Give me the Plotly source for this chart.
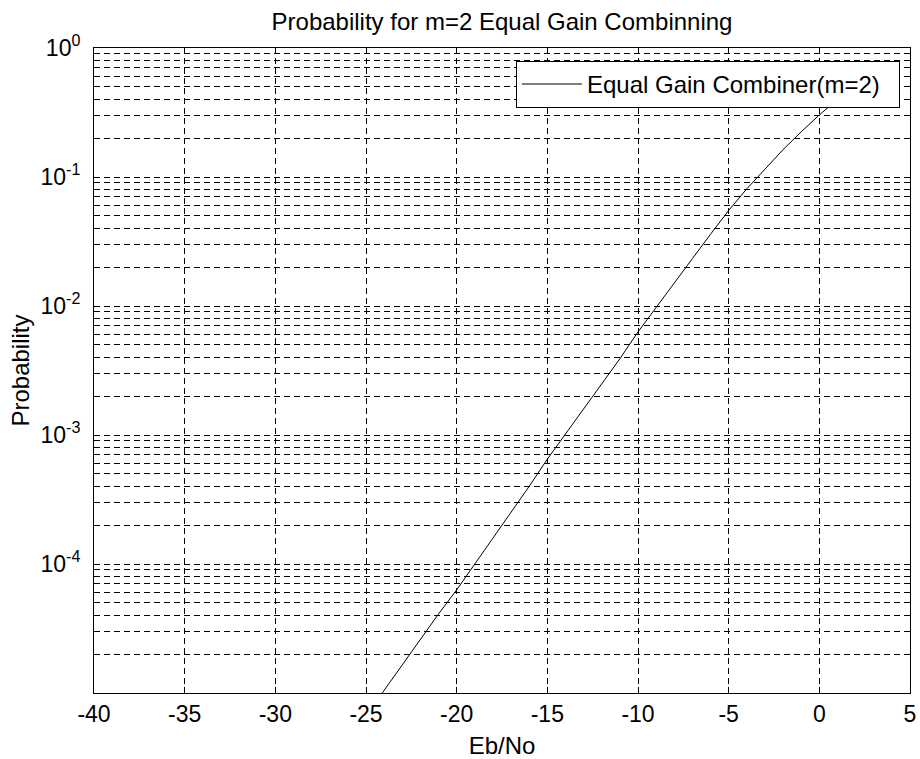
import plotly.graph_objects as go

# Data
eb_no = [-25, -24, -23, -22, -21, -20, -19, -18, -17, -16, -15, -14, -13, -12,
         -11, -10, -9, -8, -7, -6, -5, -4, -3, -2, -1, 0, 1, 2]
probability = [6.5e-6, 1.05e-5, 1.65e-5, 2.6e-5, 4.1e-5, 6.3e-5, 1.0e-4, 1.58e-4,
               2.5e-4, 4.0e-4, 6.5e-4, 1.02e-3, 1.6e-3, 2.5e-3, 3.9e-3, 6.3e-3,
               9.8e-3, 1.51e-2, 2.33e-2, 3.6e-2, 5.5e-2, 8.1e-2, 0.116, 0.163,
               0.224, 0.303, 0.398, 0.513]

x_ticks = [-40, -35, -30, -25, -20, -15, -10, -5, 0, 5]
decades = [-5, -4, -3, -2, -1, 0]
labeled_decades = [-4, -3, -2, -1, 0]

y_tickvals = []
y_ticktext = []
for e in decades:
    for k in range(1, 10):
        if e == 0 and k > 1:
            break
        y_tickvals.append(k * 10.0 ** e)
        if k == 1 and e in labeled_decades:
            y_ticktext.append("10<sup>%d</sup>" % e)
        else:
            y_ticktext.append("")

FONT = "Liberation Sans, Arial, sans-serif"

fig = go.Figure()
fig.add_trace(go.Scatter(
    x=eb_no, y=probability, mode="lines",
    name="Equal Gain Combiner(m=2)\u00a0\u00a0",
    line=dict(color="black", width=1),
))

fig.update_layout(
    width=920, height=759,
    margin=dict(l=94, r=10, t=48, b=66),
    paper_bgcolor="white", plot_bgcolor="white",
    font=dict(family=FONT, size=23, color="black"),
    title=dict(text="Probability for m=2 Equal Gain Combinning",
               x=(94 + 910) / 2 / 920, xanchor="center",
               y=1 - 22 / 759, yanchor="middle",
               font=dict(size=24, family=FONT, color="black")),
    showlegend=True,
    legend=dict(x=0.9877, xanchor="right", y=0.98, yanchor="top",
                bgcolor="white", bordercolor="black", borderwidth=1,
                font=dict(size=24, family=FONT, color="black"),
                itemwidth=60),
)

fig.update_xaxes(
    range=[-40, 5], tickvals=x_ticks, ticktext=[str(v) for v in x_ticks],
    showline=True, linecolor="black", linewidth=1, mirror="ticks",
    ticks="inside", ticklen=6, tickcolor="black",
    showgrid=True, gridcolor="black", gridwidth=1, griddash="6px,4px",
    zeroline=False, automargin=False,
    title=dict(text="Eb/No", standoff=14, font=dict(size=24)),
    tickfont=dict(size=23),
)
fig.update_yaxes(
    type="log", range=[-5, 0], tickvals=y_tickvals, ticktext=y_ticktext,
    showline=True, linecolor="black", linewidth=1, mirror="ticks",
    ticks="inside", ticklen=5, tickcolor="black",
    showgrid=True, gridcolor="black", gridwidth=1, griddash="6px,4px",
    zeroline=False, ticklabelstandoff=8, automargin=False,
    title=dict(text="Probability", standoff=4, font=dict(size=24)),
    tickfont=dict(size=23),
)

fig.write_html("out.html")
